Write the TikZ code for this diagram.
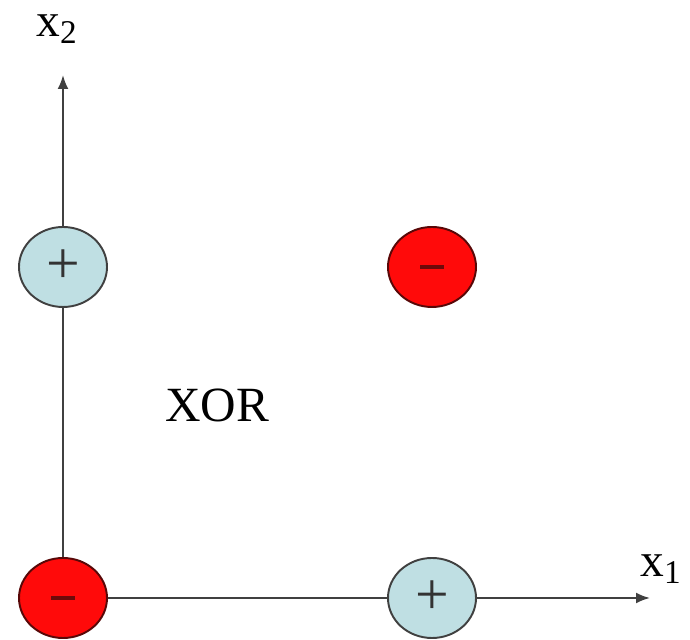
\documentclass[tikz,border=0pt]{standalone}
\usepackage{fontspec}
\setmainfont{Liberation Serif}
\usetikzlibrary{shapes.geometric,arrows.meta}
\definecolor{plusblue}{RGB}{191,223,227}
\definecolor{minusred}{RGB}{255,10,10}
\definecolor{darkred}{RGB}{110,10,10}
\tikzset{
  pluspt/.style={ellipse, draw=black!75, line width=1.1pt, fill=plusblue, minimum width=1.76cm, minimum height=1.6cm, inner sep=0pt, font=\fontsize{34}{34}\selectfont, text=black!80},
  minuspt/.style={ellipse, draw=darkred!80!black, line width=1.1pt, fill=minusred, minimum width=1.76cm, minimum height=1.6cm, inner sep=0pt, text=darkred},
  achse/.style={line width=1.2pt, black!75, -{Latex[length=2.8mm,width=2.2mm]}}
}
\newcommand{\minuszeichen}{\raisebox{-0.5ex}{\rule{0.48cm}{2.8pt}}}
\begin{document}
\begin{tikzpicture}
    \useasboundingbox (0,0) rectangle (13.8,12.8);
    %Achsen
    \coordinate (O) at (1.26,0.84);
    \coordinate (ytip) at (1.26,11.3);
    \coordinate (xtip) at (13.0,0.84);
    \draw[achse] (O) -- (xtip);
    \draw[achse] (O) -- (ytip);
    \node (xeins) at (13.22,1.42) {\fontsize{27}{27}\selectfont x\textsubscript{1}};
    \node (xzwei) at (1.14,12.22) {\fontsize{27}{27}\selectfont x\textsubscript{2}};

    %Punkte
    \node[minuspt] (nn) at (O) {\minuszeichen};
    \node[pluspt] (en) at (8.64,0.84) {\raisebox{-0.1ex}{+}};
    \node[pluspt] (ne) at (1.26,7.46) {\raisebox{-0.1ex}{+}};
    \node[minuspt] (ee) at (8.64,7.46) {\minuszeichen};

    %Beschriftung
    \node (xor) at (4.34,4.7) {\fontsize{28}{28}\selectfont XOR};
\end{tikzpicture}
\end{document}
